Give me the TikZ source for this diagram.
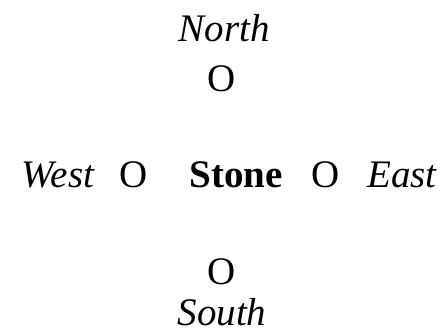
\documentclass[tikz,border=0pt]{standalone}
\usepackage{fontspec}
\setmainfont{Liberation Serif}
\usetikzlibrary{positioning}

\begin{document}
\begin{tikzpicture}[x=1pt, y=1pt,
    lbl/.style={font=\fontsize{39}{44}\selectfont, anchor=base, inner sep=0pt},
    dir/.style={lbl, font=\fontsize{39}{44}\selectfont\itshape},
    ring/.style={lbl},
    core/.style={lbl, font=\fontsize{39}{44}\selectfont\bfseries}]
  \useasboundingbox (0,0) rectangle (445,-336);
  % the stone in the middle, a ring on each side
  \node[core] (stone) at (236,-188) {Stone};
  \node[ring] (ringW) at (134,-188) {O};
  \node[ring] (ringE) at (326,-188) {O};
  \node[ring] (ringN) at (222,-92) {O};
  \node[ring] (ringS) at (222,-285) {O};
  % the four quarters
  \node[dir] (north) at (224,-42) {North};
  \node[dir] (south) at (222,-326) {South};
  \node[dir] (west) at (58,-188) {West};
  \node[dir] (east) at (402,-188) {East};
\end{tikzpicture}
\end{document}
